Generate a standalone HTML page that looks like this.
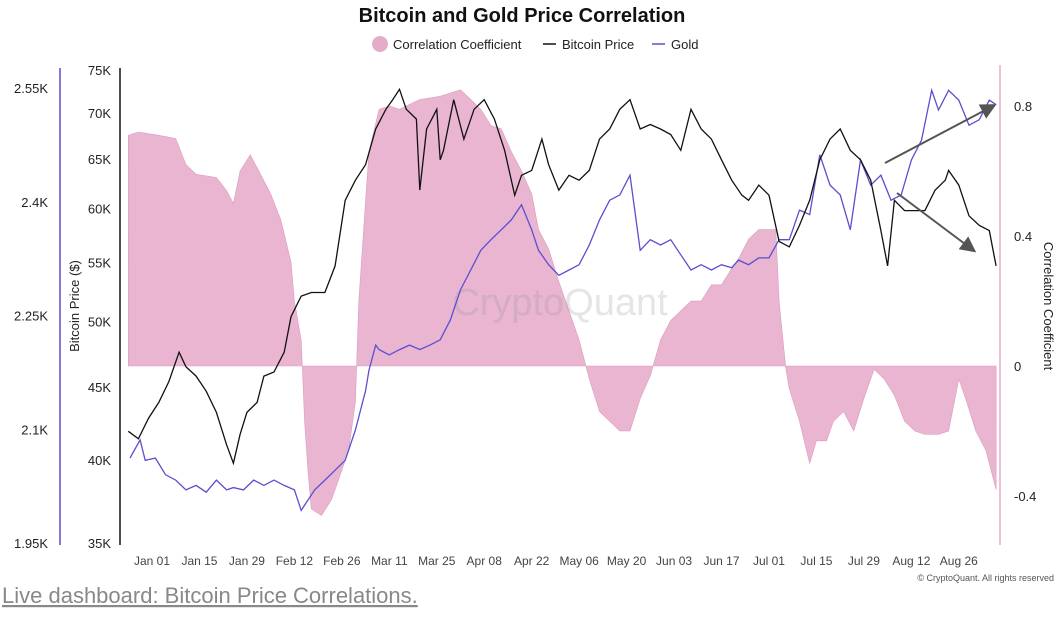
<!DOCTYPE html>
<html><head><meta charset="utf-8"><style>
body{margin:0;background:#fff;width:1064px;height:612px;overflow:hidden;font-family:"Liberation Sans",sans-serif}
svg text{font-family:"Liberation Sans",sans-serif}
</style></head><body>
<svg id="c" width="1064" height="612"></svg>
<script>
const btcDays=[-7,-4,-1,2,5,8,10,13,16,19,22,24,26,28,31,33,36,39,41,44,47,51,54,57,60,63,66,69,71,73,75,78,79,81,84,85,86,89,92,95,98,101,104,107,109,112,115,117,120,123,126,129,132,135,138,141,144,147,150,153,156,159,162,165,168,171,174,176,179,182,185,188,191,194,197,200,203,206,209,212,215,217,219,222,225,228,231,234,235,238,241,244,247,249];
const btcValues=[41.9,41.4,42.8,43.9,45.4,47.6,46.5,45.8,44.7,43.2,41.0,39.8,41.7,43.2,43.9,45.8,46.1,47.6,50.4,52.1,52.4,52.4,54.7,60.8,62.8,64.4,68.2,70.4,71.5,72.7,70.4,69.3,61.8,68.2,70.4,64.9,65.9,71.5,67.1,70.4,71.5,69.3,65.9,61.3,63.3,63.8,67.1,64.4,61.8,63.3,62.8,63.8,67.1,68.2,70.4,71.5,68.2,68.7,68.2,67.6,65.9,70.4,68.2,67.1,64.9,62.8,61.3,60.8,62.3,61.3,56.9,56.4,58.4,60.8,64.9,67.1,68.2,65.9,64.9,62.8,57.9,54.7,60.8,59.8,59.8,59.8,61.8,62.8,63.8,62.3,59.3,58.4,57.9,54.7];
const goldDays=[-6.5,-3.5,-2,1,4,7,10,13,16,19,22,24,27,30,33,36,39,42,44,45,48,51,54,57,60,63,64,66,67,70,73,76,79,82,85,88,91,94,97,100,103,106,109,112,114,117,120,123,126,129,132,135,138,141,144,147,150,153,156,159,162,165,168,171,173,176,179,182,185,188,191,194,197,200,203,206,209,212,215,218,221,224,227,230,232,235,238,241,244,247,249];
const goldValues=[2062,2086,2059,2062,2040,2033,2020,2026,2017,2033,2020,2023,2020,2033,2026,2033,2026,2020,1993,2000,2020,2033,2046,2059,2099,2151,2178,2211,2205,2198,2205,2211,2205,2211,2218,2244,2284,2310,2336,2350,2363,2376,2396,2363,2336,2317,2303,2310,2317,2343,2376,2402,2409,2435,2336,2350,2343,2350,2330,2310,2317,2310,2317,2313,2323,2317,2326,2326,2350,2350,2389,2383,2462,2422,2409,2363,2455,2422,2435,2402,2409,2455,2481,2547,2521,2547,2534,2501,2508,2534,2528];
const corrDays=[-7,-4,2,7,10,13,19,22,24,26,29,32,35,38,41,42,44,45,46,47,50,53,55,58,60,61,63,64,67,70,73,79,85,91,94,97,100,103,106,109,112,114,117,120,123,126,129,132,135,138,141,144,147,150,153,156,159,162,165,168,171,173,176,179,184,185,187,188,191,194,196,199,201,204,207,210,213,216,219,222,225,228,232,235,238,240,243,246,249];
const corrValues=[0.71,0.72,0.71,0.70,0.62,0.59,0.58,0.54,0.50,0.60,0.65,0.59,0.53,0.45,0.32,0.20,0.08,-0.17,-0.32,-0.44,-0.46,-0.41,-0.35,-0.26,-0.11,0.20,0.51,0.66,0.79,0.80,0.79,0.82,0.83,0.85,0.82,0.79,0.74,0.73,0.66,0.60,0.53,0.42,0.36,0.26,0.17,0.08,-0.04,-0.14,-0.17,-0.20,-0.20,-0.10,-0.03,0.08,0.14,0.17,0.20,0.20,0.25,0.25,0.30,0.33,0.39,0.42,0.42,0.20,-0.01,-0.07,-0.17,-0.30,-0.23,-0.23,-0.17,-0.14,-0.20,-0.10,-0.01,-0.04,-0.09,-0.17,-0.20,-0.21,-0.21,-0.20,-0.04,-0.10,-0.20,-0.26,-0.38];
const xTickLabels=["Jan 01","Jan 15","Jan 29","Feb 12","Feb 26","Mar 11","Mar 25","Apr 08","Apr 22","May 06","May 20","Jun 03","Jun 17","Jul 01","Jul 15","Jul 29","Aug 12","Aug 26"];
const btcTicks=[35,40,45,50,55,60,65,70,75];
const goldTicks=[1950,2100,2250,2400,2550];
const goldTickLabels=["1.95K","2.1K","2.25K","2.4K","2.55K"];
const corrTicks=[-0.4,0,0.4,0.8];

const X=d=>152+3.39*d;
const YB=v=>70+620.6*Math.log(75/v);
const YG=v=>88+(2550-v)/600*455;
const YC=v=>366-325*v;
const svg=document.getElementById('c');
const NS='http://www.w3.org/2000/svg';
function mk(tag,attrs,parent){const e=document.createElementNS(NS,tag);for(const k in attrs)e.setAttribute(k,attrs[k]);(parent||svg).appendChild(e);return e;}
function txt(s,attrs){const e=mk('text',attrs);e.textContent=s;return e;}

let t=txt('Bitcoin and Gold Price Correlation',{x:522,y:22,'text-anchor':'middle','font-size':20,'font-weight':'bold',fill:'#111'});


let g=mk('g',{});

let e=mk('circle',{cx:380,cy:44,r:8,fill:'#e5acc9'},g);

e=mk('text',{x:393,y:49,'font-size':13,fill:'#222'},g);e.textContent='Correlation Coefficient';

mk('line',{x1:543,x2:556,y1:44,y2:44,stroke:'#111','stroke-width':1.5},g);
e=mk('text',{x:562,y:49,'font-size':13,fill:'#222'},g);e.textContent='Bitcoin Price';

mk('line',{x1:652,x2:665,y1:44,y2:44,stroke:'#5a4fd0','stroke-width':1.5},g);
e=mk('text',{x:671,y:49,'font-size':13,fill:'#222'},g);e.textContent='Gold';


let d='M'+X(corrDays[0])+','+YC(0);
corrDays.forEach((dd,i)=>{d+='L'+X(dd).toFixed(1)+','+YC(corrValues[i]).toFixed(1);});
d+='L'+X(corrDays[corrDays.length-1])+','+YC(0)+'Z';
e=mk('path',{d:d,fill:'#e9b5d1',stroke:'#dc9cc0','stroke-width':0.6});


e=txt('CryptoQuant',{x:560,y:315,'text-anchor':'middle','font-size':38,fill:'#999','fill-opacity':0.25});


e=mk('polyline',{points:goldDays.map((dd,i)=>X(dd).toFixed(1)+','+YG(goldValues[i]).toFixed(1)).join(' '),fill:'none',stroke:'#5a4fd0','stroke-width':1.3});

e=mk('polyline',{points:btcDays.map((dd,i)=>X(dd).toFixed(1)+','+YB(btcValues[i]).toFixed(1)).join(' '),fill:'none',stroke:'#111','stroke-width':1.3});


mk('defs',{}).innerHTML='<marker id="ah" markerWidth="8" markerHeight="8" refX="6" refY="4" orient="auto"><path d="M0,0L8,4L0,8Z" fill="#555"/></marker>';
e=mk('line',{x1:885,y1:163,x2:993,y2:106,stroke:'#555','stroke-width':2,'marker-end':'url(#ah)'});

e=mk('line',{x1:897,y1:193,x2:973,y2:250,stroke:'#555','stroke-width':2,'marker-end':'url(#ah)'});


e=mk('line',{x1:60,x2:60,y1:68,y2:545,stroke:'#5a4fd0','stroke-width':1.5});

goldTicks.forEach((v,i)=>{const el=txt(goldTickLabels[i],{x:48,y:YG(v)+5,'text-anchor':'end','font-size':13,fill:'#222'});
});
e=mk('line',{x1:120,x2:120,y1:68,y2:545,stroke:'#111','stroke-width':1.5});

btcTicks.forEach(v=>{const el=txt(v+'K',{x:111,y:YB(v)+5,'text-anchor':'end','font-size':13,fill:'#222'});
});
e=txt('Bitcoin Price ($)',{x:0,y:0,transform:'translate(79,306) rotate(-90)','text-anchor':'middle','font-size':13,fill:'#222'});

e=mk('line',{x1:1000,x2:1000,y1:65,y2:545,stroke:'#e5acc9','stroke-width':1.5});

corrTicks.forEach(v=>{const el=txt(String(v),{x:1014,y:YC(v)+5,'font-size':13,fill:'#222'});
});
e=txt('Correlation Coefficient',{x:0,y:0,transform:'translate(1044,306) rotate(90)','text-anchor':'middle','font-size':13,fill:'#222'});

xTickLabels.forEach((s,i)=>{const el=txt(s,{x:X(14*i),y:565,'text-anchor':'middle','font-size':12,fill:'#444'});
});

e=txt('© CryptoQuant. All rights reserved',{x:1054,y:581,'text-anchor':'end','font-size':9,fill:'#555'});

e=txt('Live dashboard: Bitcoin Price Correlations.',{x:2,y:603,'font-size':22,fill:'#888','text-decoration':'underline'});

</script>
</body></html>
